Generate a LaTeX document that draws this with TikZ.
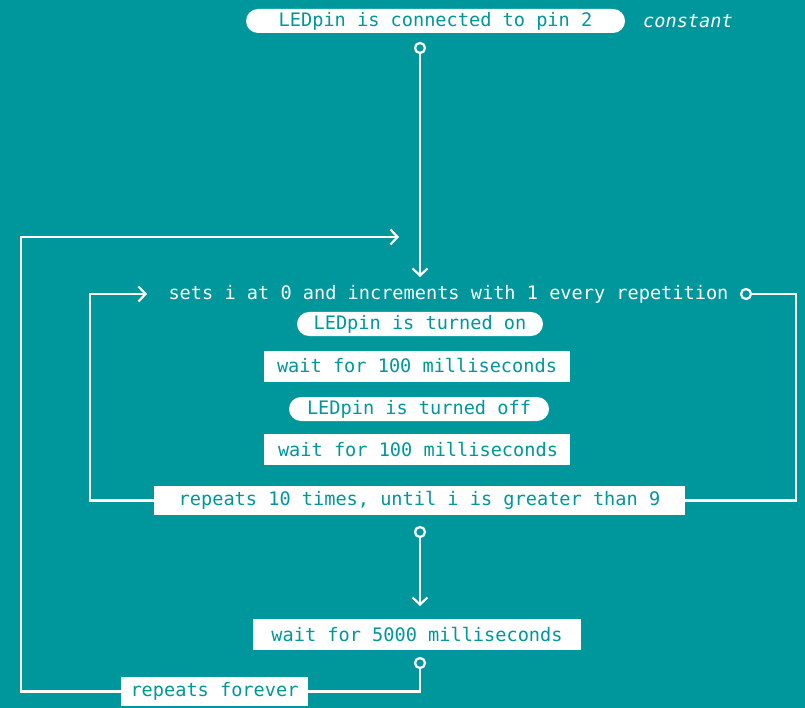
\documentclass[tikz,border=0pt]{standalone}
\usepackage{fontspec}
\newfontfamily\codefont{DejaVu Sans Mono}
\usetikzlibrary{arrows.meta}
\definecolor{sketchteal}{HTML}{00979C}
\begin{document}
\begin{tikzpicture}[x=1pt,y=-1pt,
  codetext/.style={font=\codefont\fontsize{18.6}{20}\selectfont},
  flow/.style={draw=white, line width=2.2pt},
  arrowline/.style={flow, -{Straight Barb[length=7pt,width=15pt,line width=2.2pt]}},
  pill/.style={codetext, fill=white, text=sketchteal, rounded corners=12pt,
               minimum height=24pt, inner sep=0pt},
  block/.style={codetext, fill=white, text=sketchteal, minimum height=31pt, inner sep=0pt},
  note/.style={codetext, text=white, inner sep=0pt},
  port/.style={circle, draw=white, fill=sketchteal, line width=2.2pt,
               minimum size=10pt, inner sep=0pt}]
  % background
  \fill[sketchteal] (0,0) rectangle (805,708);
  \useasboundingbox (0,0) rectangle (805,708);

  % nodes
  \node[pill, minimum width=379pt] (pinset) at (435.5,21) {LEDpin is connected to pin 2};
  \node[note, anchor=west, font=\codefont\itshape\fontsize{18.6}{20}\selectfont] (const) at (643,21) {constant};
  \node[port] (p1) at (420,48) {};
  \coordinate (topin) at (420,277);

  \node[note] (forloop) at (448.5,294) {sets i at 0 and increments with 1 every repetition};
  \node[port] (p2) at (746,294) {};
  \node[pill, minimum width=246pt] (on) at (420,324) {LEDpin is turned on};
  \node[block, minimum width=306pt] (wait1) at (417,366) {wait for 100 milliseconds};
  \node[pill, minimum width=260pt] (off) at (419,409) {LEDpin is turned off};
  \node[block, minimum width=306pt] (wait2) at (417,449.5) {\hspace{2pt}wait for 100 milliseconds};
  \node[block, minimum width=531pt, minimum height=29pt] (rep10) at (419.5,500.5) {repeats 10 times, until i is greater than 9};
  \node[port] (p3) at (420,532) {};
  \coordinate (waitin) at (420,606);
  \node[block, minimum width=328pt] (wait3) at (417,634.5) {wait for 5000 milliseconds};
  \node[port] (p4) at (420,663) {};
  \node[block, minimum width=187pt, minimum height=29pt] (forever) at (214.5,691.5) {repeats forever};

  % loop rails
  \coordinate (outerrail) at (21,237);
  \coordinate (outerin) at (399,237);
  \coordinate (innerrail) at (90,294);
  \coordinate (innerin) at (147,294);
  \coordinate (rightrail) at (796,294);

  % connectors
  \draw[arrowline] (p1) -- (topin);
  \draw[arrowline] (forever.west) -| (outerrail) -- (outerin);
  \draw[arrowline] (rep10.west) -| (innerrail) -- (innerin);
  \draw[flow] (p2) -- (rightrail) |- (rep10.east);
  \draw[arrowline] (p3) -- (waitin);
  \draw[flow] (p4) |- (forever.east);
\end{tikzpicture}
\end{document}
